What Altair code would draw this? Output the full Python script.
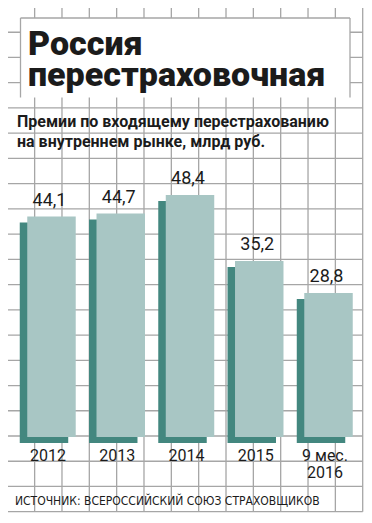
import altair as alt
import pandas as pd
import numpy as np

# ---- data ----
categories = ["2012", "2013", "2014", "2015", "9 мес.\n2016"]
values = [44.1, 44.7, 48.4, 35.2, 28.8]
value_labels = ["44,1", "44,7", "48,4", "35,2", "28,8"]

title_lines = ["Россия", "перестраховочная"]
subtitle_lines = ["Премии по входящему перестрахованию", "на внутреннем рынке, млрд руб."]
source_text = "ИСТОЧНИК: ВСЕРОССИЙСКИЙ СОЮЗ СТРАХОВЩИКОВ"

# ---- style ----
W, H = 356, 507
GRID = "#a6a6a6"
DARK = "#43877f"
LIGHT = "#a8c6c4"
TEXT = "#1b1b1b"
NARROW = "DejaVu Sans Condensed, Roboto, sans-serif"
HEAVY = "Roboto, Inter, sans-serif"

one = pd.DataFrame({"a": [0]})

# background grid (decoration)
vx = np.linspace(-0.7, 354.7, 14)
hy = np.linspace(-1.0, 503.7, 21)
vgrid = alt.Chart(pd.DataFrame({"x": vx})).mark_rule(color=GRID, strokeWidth=1.3).encode(
    x=alt.X("x:Q", scale=None), y=alt.value(-1.0), y2=alt.value(503.7)
)
hgrid = alt.Chart(pd.DataFrame({"y": hy})).mark_rule(color=GRID, strokeWidth=1.3).encode(
    y=alt.Y("y:Q", scale=None), x=alt.value(-0.7), x2=alt.value(354.7)
)

# white title box with open bottom
box = alt.Chart(one).mark_rect(color="white").encode(
    x=alt.value(12.5), x2=alt.value(342), y=alt.value(10), y2=alt.value(89.5)
)
box_edges = alt.Chart(pd.DataFrame({
    "x": [12.5, 12.5, 342], "x2": [342, 12.5, 342], "y": [10, 10, 10], "y2": [10, 89.5, 89.5]
})).mark_rule(color=GRID, strokeWidth=1.3).encode(
    x=alt.X("x:Q", scale=None), x2="x2:Q", y=alt.Y("y:Q", scale=None), y2="y2:Q"
)

title = alt.Chart(one).mark_text(
    text="\n".join(title_lines), lineBreak="\n", align="left", baseline="alphabetic",
    font=HEAVY, fontWeight=900, fontSize=34, lineHeight=31, color=TEXT
).encode(x=alt.value(20), y=alt.value(47))

subtitle = alt.Chart(one).mark_text(
    text="\n".join(subtitle_lines), lineBreak="\n", align="left", baseline="alphabetic",
    font=HEAVY, fontWeight="bold", fontSize=16, lineHeight=20, color=TEXT
).encode(x=alt.value(9), y=alt.value(119))

source = alt.Chart(one).mark_text(
    text=source_text, align="left", baseline="alphabetic",
    font=NARROW, fontSize=12, color=TEXT
).encode(x=alt.value(7), y=alt.value(497))

# bars
df = pd.DataFrame({"cat": categories, "value": values, "label": value_labels})
xenc = alt.X("cat:N", sort=categories, axis=None,
             scale=alt.Scale(type="band", range=[19.25, 344.75], paddingInner=0.3, paddingOuter=0))
yenc = alt.Y("value:Q", axis=None, scale=alt.Scale(domain=[0, 50], range=[429, 179]))

base = alt.Chart(df)
side = base.mark_bar(color=DARK, xOffset=-7.5, yOffset=6, y2Offset=6).encode(x=xenc, y=yenc)
face = base.mark_bar(color=LIGHT).encode(x=xenc, y=yenc)
vals = base.mark_text(
    baseline="alphabetic", dy=-11, dx=-2, font=HEAVY, fontSize=18, color=TEXT
).encode(x=xenc, y=yenc, text="label:N")
years = base.mark_text(
    baseline="alphabetic", dx=-3.5, lineBreak="\n", lineHeight=17,
    font=HEAVY, fontSize=16, color=TEXT
).encode(x=xenc, y=alt.value(453), text="cat:N")

chart = alt.layer(
    vgrid, hgrid, box, box_edges, title, subtitle, source, side, face, vals, years
).resolve_scale(x="independent", y="independent").properties(
    width=W, height=H, padding=0, autosize="none", background="white"
).configure_view(stroke=None)

chart.save("out.html", embed_options={"renderer": "svg", "actions": False})
